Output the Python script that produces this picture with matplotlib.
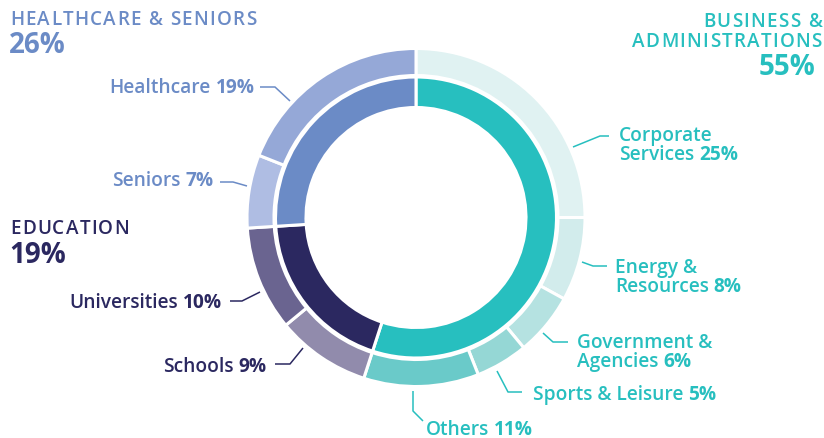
import matplotlib
matplotlib.use("Agg")
import matplotlib.pyplot as plt

TEAL = "#27BFBF"; NAVY = "#2B2860"; BLUE = "#6B8BC6"
FONT = "Open Sans"

# --- data ---
group_names = ["BUSINESS &\nADMINISTRATIONS", "EDUCATION", "HEALTHCARE & SENIORS"]
group_pct = [55, 19, 26]
group_colors = [TEAL, NAVY, BLUE]

sub_names = ["Corporate\nServices", "Energy &\nResources", "Government &\nAgencies", "Sports & Leisure",
             "Others", "Schools", "Universities", "Seniors", "Healthcare"]
sub_pct = [25, 8, 6, 5, 11, 9, 10, 7, 19]
sub_group = [0, 0, 0, 0, 0, 1, 1, 2, 2]
sub_colors = ["#E0F2F2", "#D2ECEC", "#B5E2E1", "#95D7D5", "#6ACAC9",
              "#918BAC", "#6A6490", "#AFBDE3", "#95A8D7"]

# --- layout (pixel coords, y down) ---
W, H = 824, 439
CX, CY = 416, 218.5
# label anchor (x, baseline of last line, ha) and leader polyline per sub category
sub_layout = [
    (619, 160, "left", [(573, 148), (600, 137), (609, 137)]),
    (615, 292, "left", [(582, 263), (593, 267), (607, 267)]),
    (577, 367, "left", [(543, 334), (553, 343), (568, 343)]),
    (533, 400, "left", [(497, 372), (508, 393), (522, 393)]),
    (426, 435, "left", [(413, 392), (413, 412), (423, 422)]),
    (267, 372, "right", [(303, 349), (290, 365), (275, 365)]),
    (222, 308, "right", [(260, 293), (242, 302), (230, 302)]),
    (214, 186, "right", [(247, 187), (233, 183), (220, 183)]),
    (255, 93, "right", [(290, 102), (275, 88), (260, 88)]),
]
# group header anchors: (x, name baseline, pct baseline, ha)
group_layout = [(822, 47, 75, "right"), (10, 234, 263, "left"), (10, 25, 53, "left")]

fig = plt.figure(figsize=(W / 100, H / 100), dpi=100)
ax = fig.add_axes([0, 0, 1, 1])

# y axis inverted -> counterclock=True + startangle=-90 gives clockwise from top on screen
wp = dict(edgecolor="white", linewidth=2.2)
ax.pie(sub_pct, colors=sub_colors, radius=169, center=(CX, CY), startangle=-90,
       counterclock=True, wedgeprops=dict(width=27, **wp))
ax.pie(group_pct, colors=group_colors, radius=140.5, center=(CX, CY), startangle=-90,
       counterclock=True, wedgeprops=dict(width=30.5, **wp))
ax.set_xlim(0, W); ax.set_ylim(H, 0)
ax.set_aspect("auto")
ax.axis("off")

renderer = fig.canvas.get_renderer()


def width_px(t):
    return t.get_window_extent(renderer).width


def rich_line(x, y, parts, color, size, ha):
    """parts: list of (text, weight); drawn side by side on baseline y."""
    gap = 5
    objs = [ax.text(0, y, s, fontsize=size, fontweight=w, color=color, family=FONT,
                    ha="left", va="baseline") for s, w in parts]
    widths = [width_px(o) for o in objs]
    total = sum(widths) + gap * (len(objs) - 1)
    cur = x if ha == "left" else x - total
    for o, w in zip(objs, widths):
        o.set_x(cur)
        cur += w + gap


def tracked(x, y, s, color, size, weight, track, ha):
    objs, xs = [], []
    cur = 0.0
    sp = size * 0.36
    for ch in s:
        if ch == " ":
            cur += sp + track
            continue
        o = ax.text(0, y, ch, fontsize=size, fontweight=weight, color=color, family=FONT,
                    ha="left", va="baseline")
        objs.append(o); xs.append(cur)
        cur += width_px(o) + track
    total = cur - track
    off = x if ha == "left" else x - total
    for o, px in zip(objs, xs):
        o.set_x(off + px)


LSIZE = 13.8
for name, pct, g, (x, yb, ha, pts) in zip(sub_names, sub_pct, sub_group, sub_layout):
    col = group_colors[g]
    lines = name.split("\n")
    for i, ln in enumerate(lines[:-1]):
        rich_line(x, yb - 18.5 * (len(lines) - 1 - i), [(ln, "semibold")], col, LSIZE, ha)
    rich_line(x, yb, [(lines[-1], "semibold"), (f"{pct}%", "bold")], col, LSIZE, ha)
    ax.plot([p[0] for p in pts], [p[1] for p in pts], color=col, lw=1.1,
            solid_capstyle="butt")

for name, pct, col, (x, yn, yp, ha) in zip(group_names, group_pct, group_colors, group_layout):
    lines = name.split("\n")
    for i, ln in enumerate(lines):
        tracked(x, yn - 20 * (len(lines) - 1 - i), ln, col, 13.6, "semibold", 1.3, ha)
    xp = x - 7 if ha == "right" else x - 1
    ax.text(xp, yp, f"{pct}%", fontsize=20, fontweight="bold", color=col, family=FONT,
            ha=ha, va="baseline")

fig.savefig("out.png", dpi=100)
plt.close(fig)
